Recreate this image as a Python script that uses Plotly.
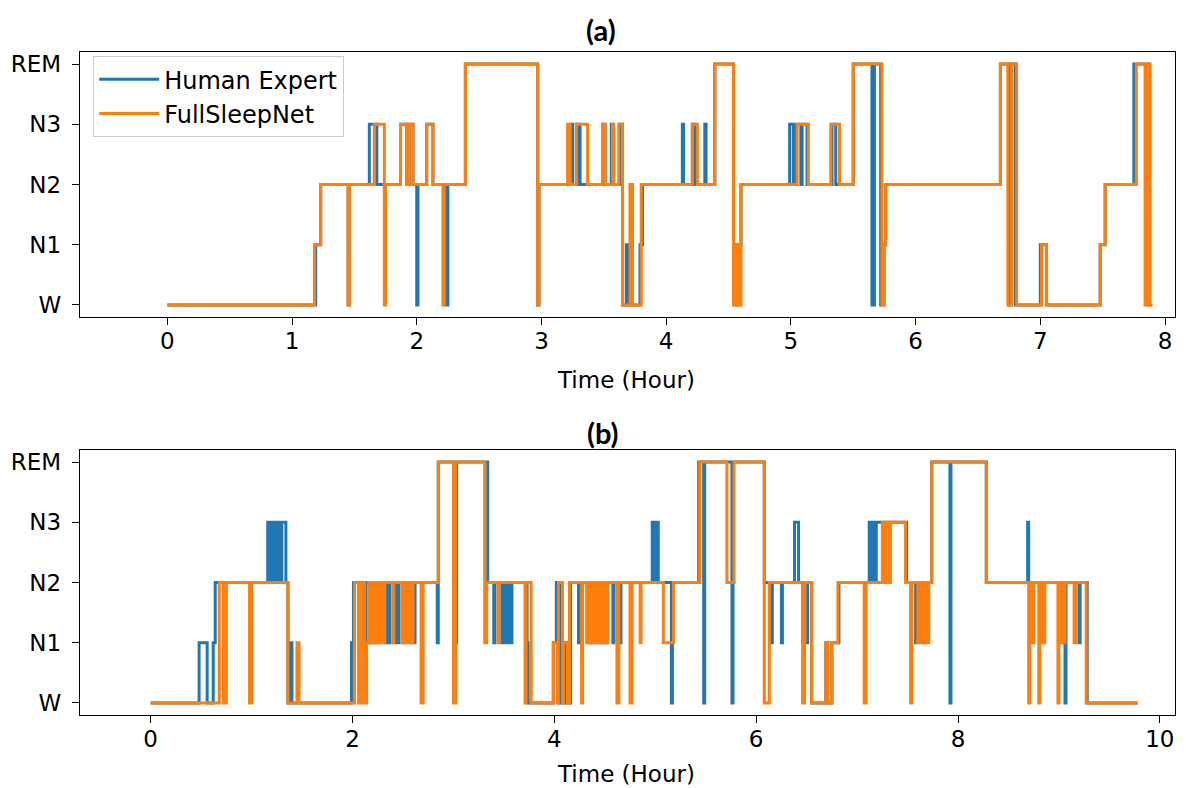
import plotly.graph_objects as go

STAGE_NAMES = ["W", "N1", "N2", "N3", "REM"]
STAGE_VALUE = {n: i for i, n in enumerate(STAGE_NAMES)}

# ---------------- Panel (a) ----------------
a_expert_t = [0.00, 1.19, 1.23, 1.45, 1.46, 1.62, 1.68, 1.87, 1.92, 1.94, 1.97, 2.00, 2.01, 2.08, 2.13,
              2.23, 2.25, 2.39, 2.97, 2.98, 3.24, 3.25, 3.28, 3.29, 3.30, 3.31, 3.49, 3.51, 3.56, 3.57,
              3.63, 3.65, 3.68, 3.69, 3.79, 3.81, 4.13, 4.14, 4.21, 4.23, 4.31, 4.32, 4.39, 4.54, 4.56,
              4.58, 4.60, 4.99, 5.02, 5.04, 5.08, 5.09, 5.13, 5.33, 5.36, 5.50, 5.65, 5.67, 5.72, 5.74,
              5.76, 6.68, 6.75, 6.77, 6.80, 7.00, 7.05, 7.48, 7.52, 7.75, 7.87]
a_expert_s = ["W", "N1", "N2", "W", "N2", "N3", "N2", "N3", "N2", "N3", "N2", "W", "N2", "N3", "N2",
              "W", "N2", "REM", "W", "N2", "N3", "N2", "N3", "N2", "N3", "N2", "N3", "N2", "N3", "N2",
              "N3", "W", "N1", "W", "N1", "N2", "N3", "N2", "N3", "N2", "N3", "N2", "REM", "N1", "W",
              "N1", "N2", "N3", "N2", "N3", "N2", "N3", "N2", "N3", "N2", "REM", "W", "REM", "W", "N1",
              "N2", "REM", "W", "REM", "W", "N1", "W", "N1", "N2", "REM", "W"]
a_expert_end = 7.89

a_net_t = [0.00, 1.18, 1.23, 1.45, 1.46, 1.66, 1.74, 1.75, 1.87, 1.92, 1.94, 1.97, 2.08, 2.13, 2.21,
           2.22, 2.39, 2.97, 2.98, 3.21, 3.23, 3.28, 3.37, 3.49, 3.51, 3.57, 3.58, 3.62, 3.65, 3.71,
           3.73, 3.80, 4.21, 4.25, 4.39, 4.54, 4.56, 4.58, 4.60, 5.05, 5.14, 5.32, 5.39, 5.50, 5.73,
           5.75, 5.76, 6.68, 6.74, 6.77, 6.81, 7.01, 7.05, 7.48, 7.52, 7.77, 7.84, 7.85, 7.86, 7.87,
           7.88]
a_net_s = ["W", "N1", "N2", "W", "N2", "N3", "W", "N2", "N3", "N2", "N3", "N2", "N3", "N2", "W",
           "N2", "REM", "W", "N2", "N3", "N2", "N3", "N2", "N3", "N2", "N3", "N2", "N3", "W", "N2",
           "W", "N2", "N3", "N2", "REM", "W", "N1", "W", "N2", "N3", "N2", "N3", "N2", "REM", "W",
           "N1", "N2", "REM", "W", "REM", "W", "N1", "W", "N1", "N2", "REM", "W", "REM", "W", "REM",
           "W"]
a_net_end = 7.90

# ---------------- Panel (b) ----------------
b_expert_t = [0.00, 0.48, 0.56, 0.62, 0.64, 1.16, 1.18, 1.19, 1.22, 1.23, 1.26, 1.27, 1.29, 1.30, 1.34,
              1.36, 1.39, 1.40, 1.99, 2.01, 2.12, 2.13, 2.17, 2.18, 2.20, 2.21, 2.23, 2.24, 2.27, 2.28,
              2.33, 2.35, 2.36, 2.37, 2.42, 2.43, 2.45, 2.46, 2.50, 2.51, 2.58, 2.59, 2.61, 2.62, 2.84,
              2.85, 3.02, 3.03, 3.34, 3.40, 3.41, 3.48, 3.49, 3.50, 3.51, 3.54, 3.55, 3.57, 3.58, 3.73,
              3.74, 3.99, 4.02, 4.04, 4.05, 4.07, 4.10, 4.12, 4.16, 4.24, 4.25, 4.35, 4.36, 4.40, 4.41,
              4.43, 4.44, 4.46, 4.47, 4.50, 4.51, 4.58, 4.59, 4.64, 4.66, 4.97, 4.99, 5.01, 5.03, 5.16,
              5.17, 5.43, 5.48, 5.49, 5.76, 5.77, 6.08, 6.15, 6.16, 6.25, 6.26, 6.38, 6.42, 6.46, 6.51,
              6.55, 6.69, 6.71, 6.75, 6.82, 7.12, 7.14, 7.15, 7.18, 7.19, 7.49, 7.58, 7.59, 7.66, 7.67,
              7.74, 7.92, 7.93, 8.28, 8.69, 8.70, 9.05, 9.06, 9.07, 9.20, 9.21, 9.28]
b_expert_s = ["W", "N1", "W", "N1", "N2", "N3", "N2", "N3", "N2", "N3", "N2", "N3", "N2", "N3", "N2",
              "W", "N1", "W", "N1", "N2", "N1", "N2", "N1", "N2", "N1", "N2", "N1", "N2", "N1", "N2",
              "N1", "N2", "N1", "N2", "N1", "N2", "N1", "N2", "N1", "N2", "N1", "N2", "N1", "N2", "N1",
              "REM", "N1", "REM", "N2", "N1", "N2", "N1", "N2", "N1", "N2", "N1", "N2", "N1", "N2", "N1",
              "W", "N1", "N2", "W", "N2", "W", "N1", "W", "N2", "N1", "N2", "N1", "N2", "N1", "N2",
              "N1", "N2", "N1", "N2", "N1", "N2", "N1", "N2", "N1", "N2", "N3", "N2", "N3", "N2", "W",
              "N2", "REM", "W", "REM", "W", "REM", "N2", "N1", "N2", "N1", "N2", "N3", "N2", "N1", "N2",
              "W", "N1", "W", "N1", "N2", "N3", "N2", "N3", "N2", "N3", "N2", "N1", "N2", "N1", "N2",
              "REM", "W", "REM", "N2", "N3", "N2", "N1", "W", "N2", "N1", "N2", "W"]
b_expert_end = 9.78

b_net_t = [0.00, 0.68, 0.72, 0.75, 0.98, 1.00, 1.36, 1.45, 1.47, 2.02, 2.06, 2.09, 2.12, 2.14, 2.16,
           2.17, 2.19, 2.20, 2.22, 2.23, 2.25, 2.26, 2.28, 2.31, 2.32, 2.40, 2.41, 2.49, 2.50, 2.51,
           2.53, 2.54, 2.56, 2.58, 2.60, 2.68, 2.70, 2.85, 3.00, 3.02, 3.31, 3.33, 3.44, 3.45, 3.71,
           3.72, 3.77, 3.99, 4.03, 4.04, 4.08, 4.09, 4.13, 4.15, 4.27, 4.28, 4.32, 4.33, 4.36, 4.37,
           4.39, 4.40, 4.42, 4.43, 4.45, 4.46, 4.48, 4.49, 4.52, 4.53, 4.62, 4.64, 4.75, 4.77, 4.85,
           4.86, 5.08, 5.18, 5.44, 5.71, 5.78, 6.08, 6.13, 6.46, 6.48, 6.55, 6.69, 6.71, 6.75, 6.81,
           7.07, 7.09, 7.25, 7.28, 7.29, 7.32, 7.33, 7.48, 7.53, 7.54, 7.60, 7.61, 7.63, 7.64, 7.67,
           7.68, 7.70, 7.71, 7.74, 8.28, 8.70, 8.71, 8.74, 8.75, 8.80, 8.81, 8.84, 8.86, 8.99, 9.00,
           9.03, 9.04, 9.05, 9.06, 9.15, 9.17, 9.27]
b_net_s = ["W", "N2", "W", "N2", "W", "N2", "W", "N1", "W", "N2", "W", "N2", "W", "N1", "N2",
           "N1", "N2", "N1", "N2", "N1", "N2", "N1", "N2", "N1", "N2", "N1", "N2", "N1", "N2", "N1",
           "N2", "N1", "N2", "N1", "N2", "W", "N2", "REM", "W", "REM", "N1", "N2", "N1", "N2", "W",
           "N2", "W", "N1", "W", "N2", "W", "N1", "W", "N2", "W", "N2", "N1", "N2", "N1", "N2",
           "N1", "N2", "N1", "N2", "N1", "N2", "N1", "N2", "N1", "N2", "W", "N2", "W", "N2", "N1",
           "N2", "N1", "N2", "REM", "N2", "REM", "W", "N2", "W", "N2", "W", "N1", "W", "N1", "N2",
           "W", "N2", "N3", "N2", "N3", "N2", "N3", "N2", "W", "N2", "N1", "N2", "N1", "N2", "N1",
           "N2", "N1", "N2", "REM", "N2", "W", "N2", "N1", "N2", "W", "N2", "N1", "N2", "W", "N2",
           "N1", "N2", "N1", "N2", "N1", "N2", "W"]
b_net_end = 9.78

a_xticks = [0, 1, 2, 3, 4, 5, 6, 7, 8]
b_xticks = [0, 2, 4, 6, 8, 10]

BLUE = "#1f77b4"
ORANGE = "#ff7f0e"
W, H = 1186, 788
# plot-area box in pixels
L, R, T, B = 80, 1175, 52, 715
PW, PH = R - L, B - T


def steps(t, s, end):
    x = list(t) + [end]
    y = [STAGE_VALUE[v] for v in s] + [STAGE_VALUE[s[-1]]]
    return x, y


def fx(px):
    return (px - L) / PW


def fy(py):
    return (B - py) / PH


fig = go.Figure()
panels = [
    ("x", "y", a_expert_t, a_expert_s, a_expert_end, a_net_t, a_net_s, a_net_end, True),
    ("x2", "y2", b_expert_t, b_expert_s, b_expert_end, b_net_t, b_net_s, b_net_end, False),
]
for xa, ya, et, es, ee, nt, ns, ne, show in panels:
    x, y = steps(et, es, ee)
    fig.add_trace(go.Scatter(x=x, y=y, mode="lines", line=dict(color=BLUE, width=3, shape="hv"),
                             name="Human Expert", legendgroup="he", showlegend=show, xaxis=xa, yaxis=ya))
    x, y = steps(nt, ns, ne)
    fig.add_trace(go.Scatter(x=x, y=y, mode="lines", line=dict(color=ORANGE, width=3, shape="hv"),
                             name="FullSleepNet", legendgroup="fs", showlegend=show, xaxis=xa, yaxis=ya))

axis_common = dict(showline=True, mirror=True, linecolor="black", linewidth=1.4, ticks="outside",
                   ticklen=7, tickwidth=1.4, tickcolor="black", showgrid=False, zeroline=False,
                   automargin=False, tickfont=dict(size=23, color="black"))

fig.update_layout(
    width=W, height=H, margin=dict(l=L, r=W - R, t=T, b=H - B, pad=0, autoexpand=False),
    plot_bgcolor="white", paper_bgcolor="white",
    font=dict(family="DejaVu Sans", size=23, color="black"),
    xaxis=dict(domain=[0, 1], anchor="y", range=[-0.70, 8.08], tickvals=a_xticks,
               ticklabelstandoff=-4, **axis_common),
    yaxis=dict(domain=[fy(317), fy(52)], anchor="x", range=[-0.2, 4.2],
               tickvals=list(range(5)), ticktext=STAGE_NAMES, ticklabelstandoff=6, **axis_common),
    xaxis2=dict(domain=[0, 1], anchor="y2", range=[-0.70, 10.15], tickvals=b_xticks,
                ticklabelstandoff=-4, **axis_common),
    yaxis2=dict(domain=[fy(715), fy(450)], anchor="x2", range=[-0.2, 4.2],
                tickvals=list(range(5)), ticktext=STAGE_NAMES, ticklabelstandoff=6, **axis_common),
    legend=dict(x=fx(93), y=fy(56), xanchor="left", yanchor="top",
                bgcolor="rgba(255,255,255,0.85)", bordercolor="#cccccc", borderwidth=1.2,
                font=dict(size=24, color="black"), tracegroupgap=12, traceorder="normal",
                itemwidth=60),
)

annos = [
    dict(text="<b>(a)</b>", x=fx(601), y=fy(30), font=dict(family="Lato", size=29)),
    dict(text="<b>(b)</b>", x=fx(603), y=fy(432), font=dict(family="Lato", size=29)),
    dict(text="Time (Hour)", x=fx(626), y=fy(380), font=dict(size=23)),
    dict(text="Time (Hour)", x=fx(626), y=fy(774), font=dict(size=23)),
]
for a in annos:
    fig.add_annotation(xref="paper", yref="paper", showarrow=False, xanchor="center", yanchor="middle", **a)

fig.write_html("out.html", config={"displayModeBar": False},
               post_script="document.body.style.margin='0';document.body.style.padding='0';")
